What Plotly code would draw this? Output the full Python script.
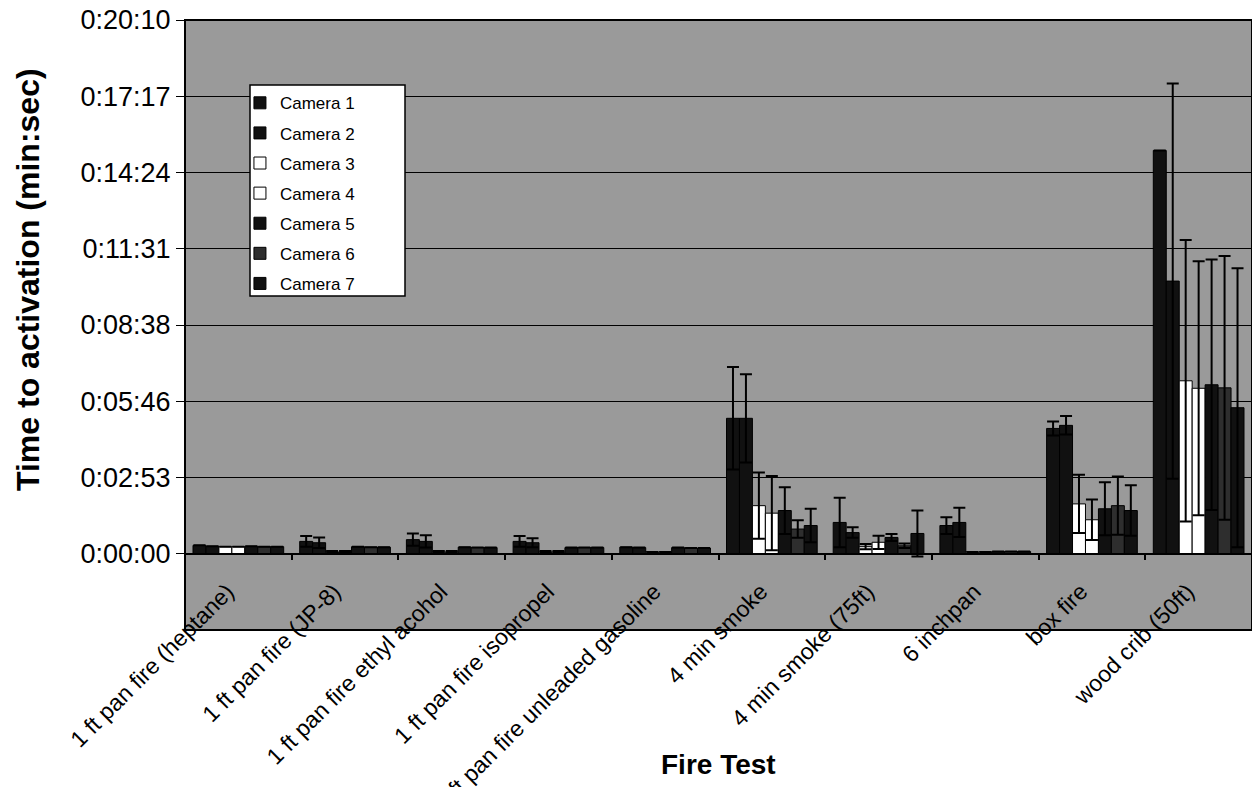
import plotly.graph_objects as go

categories = ["1 ft pan fire (heptane)", "1 ft pan fire (JP-8)", "1 ft pan fire ethyl acohol",
              "1 ft pan fire isopropel", "1 ft pan fire unleaded gasoline", "4 min smoke",
              "4 min smoke (75ft)", "6 inchpan", "box fire", "wood crib (50ft)"]

# values in seconds
cam1 = [19, 28, 32, 28, 15, 307, 71, 64, 284, 914]
cam1_err = [0, 12, 14, 12, 0, 116, 56, 19, 16, 0]
cam2 = [17, 25, 28, 25, 14, 307, 48, 71, 291, 618]
cam2_err = [0, 12, 14, 10, 0, 100, 12, 33, 21, 448]
cam3 = [16, 4, 4, 4, 4, 109, 16, 4, 113, 392]
cam3_err = [0, 2, 2, 2, 0, 75, 6, 0, 66, 319]
cam4 = [16, 4, 4, 4, 4, 92, 26, 4, 77, 375]
cam4_err = [0, 2, 2, 2, 0, 84, 15, 0, 46, 288]
cam5 = [17, 16, 15, 14, 14, 98, 37, 5, 102, 383]
cam5_err = [0, 0, 0, 0, 0, 53, 8, 0, 60, 284]
cam6 = [16, 15, 14, 14, 13, 56, 18, 5, 109, 376]
cam6_err = [0, 0, 0, 0, 0, 20, 5, 0, 66, 299]
cam7 = [16, 15, 14, 14, 13, 64, 46, 5, 98, 331]
cam7_err = [0, 0, 0, 0, 0, 38, 52, 0, 57, 316]

series_names = ["Camera 1", "Camera 2", "Camera 3", "Camera 4", "Camera 5", "Camera 6", "Camera 7"]
series_vals = [cam1, cam2, cam3, cam4, cam5, cam6, cam7]
series_errs = [cam1_err, cam2_err, cam3_err, cam4_err, cam5_err, cam6_err, cam7_err]
series_colors = ["#111111", "#111111", "#ffffff", "#ffffff", "#111111", "#2e2e2e", "#111111"]

tick_vals = [0, 172.8, 345.6, 518.4, 691.2, 864.0, 1036.8, 1209.6]
tick_text = ["0:00:00", "0:02:53", "0:05:46", "0:08:38", "0:11:31", "0:14:24", "0:17:17", "0:20:10"]
y_min, y_max = -172.8, 1209.7

FONT = "Liberation Sans, Arial, sans-serif"
n = len(categories)

fig = go.Figure()
for name, vals, errs, col in zip(series_names, series_vals, series_errs, series_colors):
    fig.add_trace(go.Bar(
        name=name, x=list(range(n)), y=vals, legendgroup=name,
        marker=dict(color=col, line=dict(color="black", width=1)),
        error_y=dict(type="data", array=errs, symmetric=True, color="black", thickness=2, width=6),
    ))
# invisible helper trace so the zero-crossing category axis (ticks at boundaries) is drawn
fig.add_trace(go.Scatter(x=[0], y=[0], xaxis="x2", yaxis="y", mode="markers",
                         marker=dict(opacity=0), showlegend=False, hoverinfo="skip"))

fig.add_annotation(x=0.5, y=-0.221, xref="paper", yref="paper", text="<b>Fire Test</b>",
                   xanchor="center", yanchor="middle",
                   showarrow=False, font=dict(family=FONT, size=28, color="black"))
fig.add_annotation(x=-0.147, y=0.574, xref="paper", yref="paper",
                   text="<b>Time to activation (min:sec)</b>", textangle=-90,
                   xanchor="center", yanchor="middle",
                   showarrow=False, font=dict(family=FONT, size=32, color="black"))

# plot frame
fig.add_shape(type="rect", xref="paper", yref="paper", x0=0, x1=1, y0=0, y1=1,
              line=dict(color="black", width=2), layer="above")
# legend frame
fig.add_shape(type="rect", xref="paper", yref="paper",
              x0=(250 - 185) / 1067, x1=(405 - 185) / 1067,
              y0=(630 - 296) / 610, y1=(630 - 85) / 610,
              fillcolor="white", line=dict(color="black", width=1.5), layer="above")

zero_pos = (0 - y_min) / (y_max - y_min)

fig.update_layout(
    width=1252, height=779,
    margin=dict(l=177, r=8, t=12, b=157, autoexpand=False),
    paper_bgcolor="white", plot_bgcolor="#9a9a9a",
    barmode="group", bargap=0.15, bargroupgap=0,
    font=dict(family=FONT, color="black"),
    showlegend=True,
    legend=dict(x=0.0515, y=0.893, xanchor="left", yanchor="top", bgcolor="rgba(0,0,0,0)",
                borderwidth=0, traceorder="grouped", tracegroupgap=5,
                font=dict(size=17, family=FONT)),
    xaxis=dict(anchor="free", position=0.094, range=[-0.5, n - 0.5], automargin=False,
               tickvals=list(range(n)), ticktext=categories, tickangle=-45,
               ticklabelshift=-11,
               ticks="", showline=False, showgrid=False, zeroline=False,
               tickfont=dict(size=23, family=FONT, color="black")),
    xaxis2=dict(overlaying="x", anchor="free", position=zero_pos, range=[-0.5, n - 0.5],
                automargin=False,
                showticklabels=False, tickvals=[i + 0.5 for i in range(n - 1)],
                ticks="outside", ticklen=5, tickcolor="black", tickwidth=1.5,
                showline=True, linecolor="black", linewidth=1.5, showgrid=False, zeroline=False),
    yaxis=dict(range=[y_min, y_max], tickvals=tick_vals, ticktext=tick_text, automargin=False,
               ticks="outside", ticklen=8, tickcolor="black", tickwidth=1,
               ticklabeloverflow="allow",
               showgrid=True, gridcolor="black", gridwidth=1, zeroline=True, zerolinecolor="black",
               zerolinewidth=1.5, tickfont=dict(size=27, family=FONT), showline=False),
)

fig.write_html("out.html")
